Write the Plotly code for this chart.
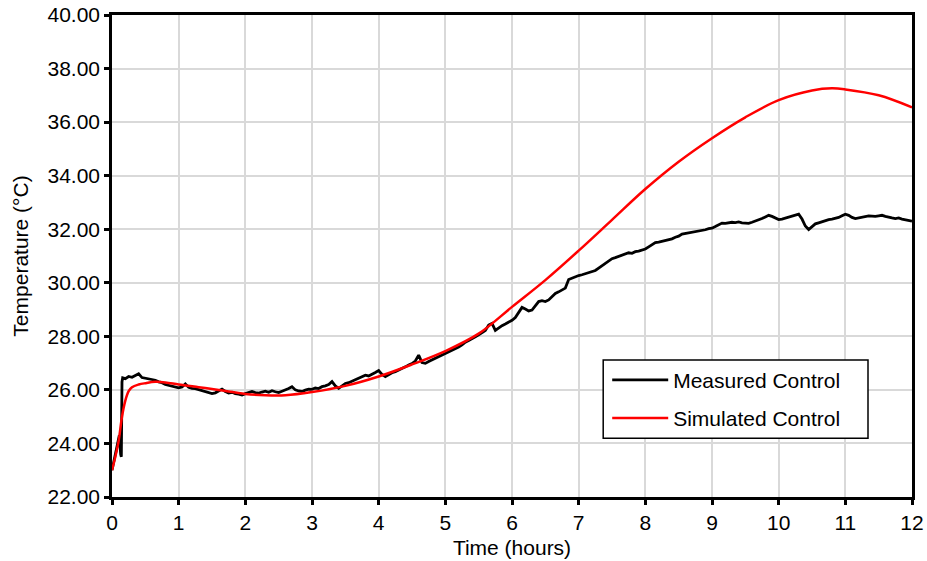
import numpy as np
import plotly.graph_objects as go

# Measured control: start-up transient (irregular samples)
startup_hours = [0.0, 0.04, 0.08, 0.11, 0.13, 0.14, 0.15, 0.16]
startup_temp = [23.0, 23.5, 24.0, 24.3, 23.6, 23.5, 26.3, 26.45]

# Measured control: logged every 0.05 h from 0.20 h to 12.00 h, one row per hour
measured_rows = [
    [26.42, 26.50, 26.47, 26.53, 26.60, 26.46, 26.44, 26.40, 26.38, 26.36, 26.30, 26.27, 26.20, 26.17, 26.14, 26.12],
    [26.08, 26.11, 26.22, 26.10, 26.06, 26.05, 26.01, 25.98, 25.95, 25.90, 25.86, 25.89, 25.95, 26.03, 25.94, 25.88, 25.91, 25.86, 25.84, 25.81],
    [25.86, 25.89, 25.94, 25.90, 25.88, 25.92, 25.95, 25.91, 25.97, 25.93, 25.90, 25.95, 25.99, 26.05, 26.12, 26.00, 25.96, 25.94, 25.99, 26.03],
    [26.02, 26.07, 26.05, 26.12, 26.15, 26.20, 26.31, 26.15, 26.06, 26.16, 26.24, 26.27, 26.33, 26.38, 26.42, 26.48, 26.55, 26.52, 26.60, 26.65],
    [26.72, 26.58, 26.50, 26.58, 26.64, 26.68, 26.73, 26.79, 26.86, 26.93, 26.98, 27.08, 27.30, 27.02, 26.99, 27.06, 27.12, 27.18, 27.22, 27.28],
    [27.33, 27.40, 27.47, 27.52, 27.60, 27.68, 27.78, 27.84, 27.90, 27.98, 28.06, 28.14, 28.22, 28.42, 28.48, 28.22, 28.32, 28.40, 28.46, 28.52],
    [28.60, 28.70, 28.88, 29.08, 29.02, 28.95, 28.98, 29.12, 29.30, 29.33, 29.30, 29.36, 29.48, 29.60, 29.66, 29.72, 29.80, 30.12, 30.18, 30.22],
    [30.27, 30.30, 30.34, 30.37, 30.40, 30.46, 30.55, 30.64, 30.70, 30.80, 30.90, 30.94, 30.98, 31.02, 31.08, 31.12, 31.10, 31.16, 31.18, 31.22],
    [31.26, 31.34, 31.42, 31.50, 31.52, 31.55, 31.58, 31.60, 31.64, 31.70, 31.74, 31.82, 31.84, 31.86, 31.88, 31.90, 31.92, 31.95, 31.98, 32.02],
    [32.04, 32.10, 32.16, 32.23, 32.22, 32.24, 32.26, 32.25, 32.27, 32.24, 32.22, 32.22, 32.26, 32.30, 32.36, 32.40, 32.46, 32.52, 32.48, 32.42],
    [32.36, 32.38, 32.42, 32.44, 32.48, 32.52, 32.56, 32.38, 32.12, 31.99, 32.08, 32.20, 32.24, 32.28, 32.34, 32.36, 32.38, 32.40, 32.44, 32.50],
    [32.56, 32.52, 32.44, 32.40, 32.42, 32.46, 32.48, 32.50, 32.49, 32.48, 32.50, 32.52, 32.48, 32.44, 32.42, 32.40, 32.42, 32.38, 32.36, 32.34],
    [32.30],
]

# Simulated control
simulated_hours = [0.0, 0.05, 0.1, 0.15, 0.2, 0.25, 0.3, 0.4, 0.5, 0.65, 0.8, 1.0, 1.3, 1.6, 2.0, 2.3,
                   2.6, 3.0, 3.5, 4.0, 4.5, 5.0, 5.5, 6.0, 6.5, 7.0, 7.5, 8.0, 8.5, 9.0, 9.5, 10.0,
                   10.5, 10.8, 11.0, 11.5, 12.0]
simulated_temp = [23.0, 23.5, 24.1, 25.0, 25.6, 25.95, 26.1, 26.2, 26.25, 26.3, 26.28, 26.2, 26.1, 26.0,
                  25.85, 25.8, 25.8, 25.92, 26.15, 26.5, 26.95, 27.45, 28.1, 29.1, 30.1, 31.2, 32.35,
                  33.5, 34.52, 35.4, 36.18, 36.82, 37.18, 37.26, 37.22, 37.0, 36.55]

x_ticks = list(range(0, 13))
y_ticks = [22, 24, 26, 28, 30, 32, 34, 36, 38, 40]

logged = [v for row in measured_rows for v in row]
logged_hours = np.round(0.20 + 0.05 * np.arange(len(logged)), 2)
measured_hours = startup_hours + list(logged_hours)
measured_temp = startup_temp + logged

FONT = "Liberation Sans, Arial, sans-serif"
TXT = dict(family=FONT, size=21, color="black")

fig = go.Figure()
fig.add_trace(go.Scatter(x=measured_hours, y=measured_temp, mode="lines",
                         name="Measured Control", legendgroup="m",
                         line=dict(color="black", width=2.8)))
fig.add_trace(go.Scatter(x=simulated_hours, y=simulated_temp, mode="lines",
                         name="Simulated Control", legendgroup="s",
                         line=dict(color="#ff0000", width=2.5, shape="spline", smoothing=1.0)))

axis_common = dict(
    showline=True, linecolor="black", linewidth=2.5, mirror=True,
    showgrid=True, gridcolor="#d9d9d9", gridwidth=2,
    ticks="outside", ticklen=5, tickwidth=2.5, tickcolor="black",
    zeroline=False, automargin=False,
    tickfont=TXT,
)

fig.update_xaxes(range=[0, 12], tickvals=x_ticks,
                 title=dict(text="Time (hours)", font=TXT, standoff=8),
                 **axis_common)
fig.update_yaxes(range=[22, 40], tickvals=y_ticks, tickformat=".2f",
                 title=dict(text="Temperature (°C)", font=TXT, standoff=14),
                 **axis_common)

# Legend frame: a white boxed panel behind the legend entries
fig.add_shape(type="rect", xref="paper", yref="paper",
              x0=0.614, x1=0.945, y0=0.122, y1=0.284,
              fillcolor="white", line=dict(color="black", width=1.5), layer="above")

fig.update_layout(
    width=927, height=561,
    margin=dict(l=112, r=15, t=15, b=64),
    plot_bgcolor="white", paper_bgcolor="white",
    font=TXT,
    legend=dict(x=0.619, y=0.285, xanchor="left", yanchor="top",
                bgcolor="rgba(0,0,0,0)", borderwidth=0,
                font=TXT, itemwidth=56, tracegroupgap=8),
    showlegend=True,
)

fig.write_html("out.html")
